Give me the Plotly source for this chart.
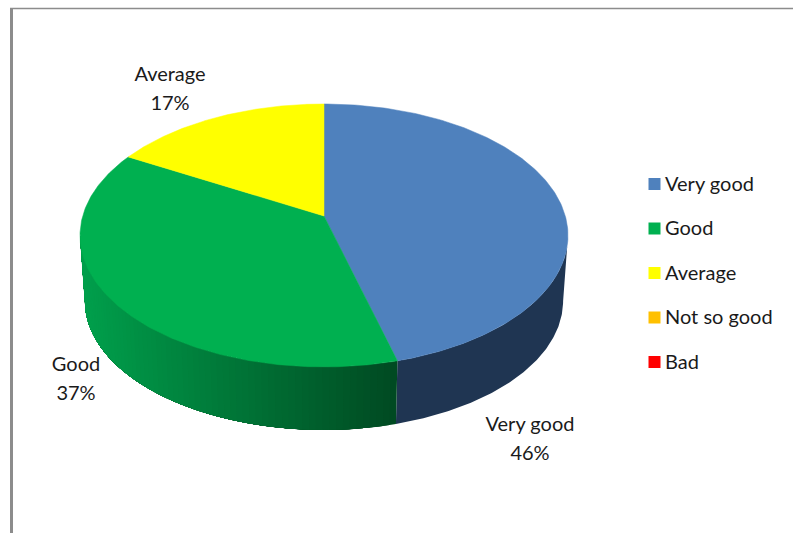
import numpy as np
import plotly.graph_objects as go

categories = ["Very good", "Good", "Average", "Not so good", "Bad"]
values = [45.8, 37.4, 16.8, 0, 0]
top_colors = ["#4F81BD", "#00B050", "#FFFF00", "#FFC000", "#FF0000"]

# Chart geometry (pixel-like axis units) of the tilted pie
CX, CY = 324.0, 216.0
RX, RY = 241.3, 128.6
PERSP = 0.148
BASE_DROP = 66.0
BASE_SCALE = 0.98
FONT = "Lato"
FS = 20
TEXT = "#1a1a1a"


def project(theta_deg):
    t = np.radians(np.asarray(theta_deg, dtype=float))
    w = 1 + PERSP * np.cos(t)
    return CX + RX * np.sin(t) / w, CY - RY * np.cos(t) / w


def project_base(theta_deg):
    x, y = project(theta_deg)
    return CX + BASE_SCALE * (x - CX), CY + BASE_DROP + BASE_SCALE * (y - CY)


def mix(c1, c2, f):
    return "rgb(%d,%d,%d)" % tuple(round(a + (b - a) * f) for a, b in zip(c1, c2))


fig = go.Figure()

# running angles derived from the values
total = sum(values)
edges = np.concatenate([[0], np.cumsum(values) / total * 360])
# angle at which the rim is widest: the wall silhouette starts there
rim_angle = np.degrees(np.arccos(-PERSP))


def wall(t0, t1, color):
    th = np.linspace(t0, t1, 120)
    x, y = project(th)
    xb, yb = project_base(th)
    fig.add_trace(go.Scatter(
        x=np.concatenate([x, xb[::-1]]),
        y=np.concatenate([y, yb[::-1]]),
        mode="lines", fill="toself", fillcolor=color,
        line=dict(color=color, width=0), hoverinfo="skip", showlegend=False))


# side walls: blue is flat and dark, green is shaded from dark to light
wall(rim_angle, edges[1], "#1F3552")
green_end = 360.0 - rim_angle
dark, light = (0, 74, 34), (0, 160, 76)
steps = np.linspace(edges[1], green_end, 70)
x_steps, _ = project(steps)
x_left = x_steps.min()
for a, xa in zip(steps[:-1], x_steps[:-1]):
    # each strip reaches the far end; the next one paints over it, so no seams
    f = (x_steps[0] - xa) / (x_steps[0] - x_left)
    wall(a, green_end, mix(dark, light, f))

# top faces
for i, cat in enumerate(categories):
    if values[i] == 0:
        continue
    th = np.linspace(edges[i], edges[i + 1], 200)
    x, y = project(th)
    fig.add_trace(go.Scatter(
        x=np.concatenate([[CX], x, [CX]]),
        y=np.concatenate([[CY], y, [CY]]),
        mode="lines", fill="toself", fillcolor=top_colors[i],
        line=dict(color=top_colors[i], width=0.5),
        name=cat, text=f"{cat}: {round(values[i])}%", hoverinfo="text", showlegend=False))

# data labels
label_cats = ["Very good", "Good", "Average"]
label_x = [530, 76, 170]
label_y_name = [425.5, 365.5, 75.5]
label_y_pct = [454.5, 394.5, 104.5]
fig.add_trace(go.Scatter(
    x=label_x, y=label_y_name, text=label_cats, mode="text",
    textposition="middle center", textfont=dict(family=FONT, size=FS, color=TEXT),
    hoverinfo="skip", showlegend=False))
fig.add_trace(go.Scatter(
    x=label_x, y=label_y_pct,
    text=[f"{round(values[categories.index(c)])}%" for c in label_cats], mode="text",
    textposition="middle center", textfont=dict(family=FONT, size=FS, color=TEXT),
    hoverinfo="skip", showlegend=False))

# legend column: markers and labels positioned separately
legend_x = 654.5
legend_text_x = 665.0
legend_y0, legend_dy = 184.0, 44.5
legend_y = [legend_y0 + legend_dy * i for i in range(len(categories))]
fig.add_trace(go.Scatter(
    x=[legend_x] * len(categories), y=legend_y, mode="markers",
    marker=dict(symbol="square", size=12, color=top_colors, line=dict(width=0)),
    hoverinfo="skip", showlegend=False))
fig.add_trace(go.Scatter(
    x=[legend_text_x] * len(categories), y=[v + 1.5 for v in legend_y],
    text=categories, mode="text", textposition="middle right",
    textfont=dict(family=FONT, size=FS, color=TEXT),
    hoverinfo="skip", showlegend=False))

fig.update_layout(
    width=793, height=533, autosize=False,
    margin=dict(l=0, r=0, t=0, b=0),
    paper_bgcolor="white", plot_bgcolor="white", showlegend=False,
    xaxis=dict(range=[0, 793], visible=False, fixedrange=True),
    yaxis=dict(range=[533, 0], visible=False, fixedrange=True),
    shapes=[
        dict(type="line", xref="x", yref="y", x0=11.5, x1=11.5, y0=8, y1=533,
             line=dict(color="#8C8C8C", width=3)),
        dict(type="line", xref="x", yref="y", x0=10, x1=793, y0=8.5, y1=8.5,
             line=dict(color="#8C8C8C", width=1.5)),
    ],
)

fig.write_html("out.html", config={"displayModeBar": False},
               post_script="document.body.style.margin='0';")
